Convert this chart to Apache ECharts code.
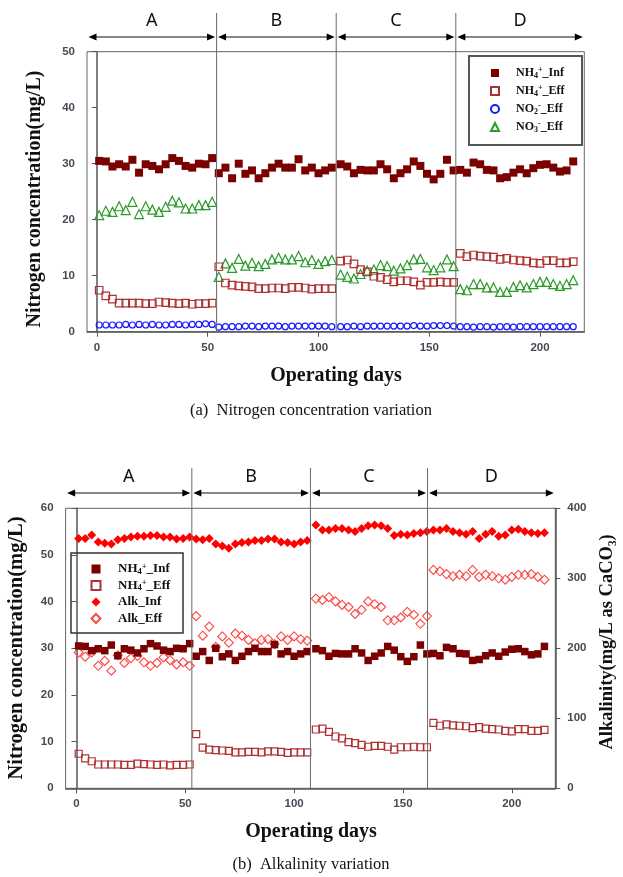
<!DOCTYPE html>
<html><head><meta charset="utf-8">
<script src="https://cdn.jsdelivr.net/npm/echarts@6/dist/echarts.min.js"></script>
<style>html,body{margin:0;padding:0;background:#fff}#main{width:623px;height:877px}</style>
</head><body><div id="main"></div>
<script>
// ---- data ----
const days = [1,4,7,10,13,16,19,22,25,28,31,34,37,40,43,46,49,52,
  55,58,61,64,67,70,73,76,79,82,85,88,91,94,97,100,103,106,
  110,113,116,119,122,125,128,131,134,137,140,143,146,149,152,155,158,161,
  164,167,170,173,176,179,182,185,188,191,194,197,200,203,206,209,212,215];
const nh4Inf = [30.5,30.4,29.5,29.9,29.5,30.7,28.4,29.9,29.6,29.0,29.9,31.0,30.5,29.6,29.3,30.0,29.9,31.0,
  28.3,29.3,27.4,30.0,28.2,28.8,27.4,28.3,29.3,30.0,29.3,29.3,30.8,28.8,29.3,28.3,28.8,29.3,
  29.9,29.5,28.3,28.9,28.8,28.8,29.9,29.0,27.4,28.3,29.0,30.4,29.6,28.2,27.2,28.2,30.7,28.8,
  28.9,28.4,30.2,29.9,28.9,28.8,27.4,27.6,28.4,29.0,28.3,29.2,29.8,29.9,29.3,28.6,28.8,30.4];
const nh4Eff = [7.4,6.4,5.8,5.1,5.1,5.1,5.1,5.0,5.0,5.3,5.2,5.1,5.0,5.1,4.9,5.0,5.0,5.1,
  11.6,8.7,8.3,8.2,8.1,8.0,7.7,7.7,7.8,7.8,7.7,7.9,7.9,7.8,7.6,7.7,7.7,7.7,
  12.6,12.8,12.1,11.1,10.7,9.9,9.7,9.3,8.9,9.1,9.1,8.9,8.3,8.8,8.8,8.9,8.8,8.8,
  14.0,13.4,13.7,13.5,13.4,13.3,12.9,13.1,12.8,12.7,12.6,12.3,12.2,12.7,12.7,12.3,12.3,12.5];
const no2Eff = [1.2,1.2,1.2,1.2,1.3,1.2,1.3,1.2,1.3,1.2,1.2,1.3,1.3,1.2,1.3,1.3,1.4,1.3,
  0.8,0.9,0.9,0.9,1.0,1.0,0.9,1.0,1.0,1.0,0.9,1.0,1.0,1.0,1.0,1.0,1.0,0.9,
  0.9,0.9,1.0,0.9,1.0,1.0,1.0,1.0,1.0,1.0,1.0,1.1,1.0,1.0,1.1,1.1,1.1,1.0,
  0.9,0.9,0.8,0.9,0.9,0.8,0.9,0.9,0.8,0.9,0.9,0.9,0.9,0.9,0.9,0.9,0.9,0.9];
const no3Eff = [20.8,21.6,21.4,22.4,21.7,23.2,21.0,22.4,21.8,21.4,22.3,23.4,23.1,22.0,22.0,22.6,22.6,23.2,
  9.8,12.2,11.4,13.0,11.8,12.3,11.7,12.1,12.9,13.2,12.9,12.9,13.5,12.4,12.8,12.1,12.6,12.8,
  10.2,9.8,9.5,10.3,10.9,11.1,11.9,11.7,10.9,11.3,11.9,12.9,13.0,11.5,11.0,11.5,12.9,11.7,
  7.6,7.4,8.5,8.5,7.9,7.9,7.1,7.1,8.0,8.3,7.9,8.5,8.9,8.9,8.5,8.2,8.5,9.2];
const alkInf = [357,357,362,352,350,349,355,357,359,360,360,361,361,359,359,356,357,359,
  356,355,357,349,346,343,349,351,352,354,354,356,356,352,351,349,352,354,
  376,369,369,371,371,369,367,371,375,376,375,371,361,363,362,364,365,367,
  369,369,371,367,365,363,367,357,363,367,360,362,369,370,367,365,364,365];
const alkEff = [194,188,194,175,182,168,190,179,186,189,180,175,179,187,183,177,180,175,
  246,218,231,202,217,208,221,218,212,207,212,213,206,217,212,217,213,211,
  271,269,273,267,262,259,249,255,267,263,259,240,240,244,252,248,235,246,
  312,310,306,303,305,303,312,302,305,303,300,298,302,305,305,306,302,298];
const xTicks = [0,50,100,150,200];
const phaseNames = ['A','B','C','D'];
const phaseBoundsTop = [54,108,162];
const phaseBoundsBottom = [53,107.5,161.3];

// ---- style ----
const SERIF = '"Liberation Serif","Times New Roman",serif';
const SANS = '"Liberation Sans",Arial,sans-serif';
const LBL = '#464a55';
const pts = arr => days.map((d,i)=>[d, arr[i]]);

const legendRich = (fs, sfs, gap) => ({
  g:{width:gap,fontSize:fs,lineHeight:14},
  m:{fontFamily:SERIF,fontWeight:'bold',fontSize:fs,color:'#111',lineHeight:14},
  sub:{fontFamily:SERIF,fontWeight:'bold',fontSize:sfs,color:'#111',lineHeight:sfs,verticalAlign:'bottom'},
  sup:{fontFamily:SERIF,fontWeight:'bold',fontSize:sfs,color:'#111',lineHeight:sfs,verticalAlign:'top'}
});
const legendLabels = {
  a_nh4inf:'{g|}{m|NH}{sub|4}{sup|+}{m|_Inf}', a_nh4eff:'{g|}{m|NH}{sub|4}{sup|+}{m|_Eff}',
  a_no2:'{g|}{m|NO}{sub|2}{sup|-}{m|_Eff}', a_no3:'{g|}{m|NO}{sub|3}{sup|-}{m|_Eff}',
  b_nh4inf:'{g|}{m|NH}{sub|4}{sup|+}{m|_Inf}', b_nh4eff:'{g|}{m|NH}{sub|4}{sup|+}{m|_Eff}',
  b_alkinf:'{g|}{m|Alk_Inf}', b_alkeff:'{g|}{m|Alk_Eff}'
};

function xAxisCfg(gi, min){
  return {type:'value', gridIndex:gi, min:min, max:220,
    axisLine:{show:true,lineStyle:{color:'#555',width:1.5}},
    axisTick:{show:true,inside:false,length:5,customValues:xTicks,lineStyle:{color:'#555'}},
    axisLabel:{customValues:xTicks,margin:10,color:LBL,fontFamily:SANS,fontWeight:'bold',fontSize:11.5},
    splitLine:{show:false}};
}
function yAxisCfg(gi, max, interval, pos){
  return {type:'value', gridIndex:gi, min:0, max:max, interval:interval, position:pos,
    axisLine:{show:true,lineStyle:{color:'#555',width:1.5}},
    axisTick:{show:true,inside:false,length:5,lineStyle:{color:'#555'}},
    axisLabel:{margin:12,color:LBL,fontFamily:SANS,fontWeight:'bold',fontSize:11.5},
    splitLine:{show:false}};
}

const chart = echarts.init(document.getElementById('main'), null, {renderer:'canvas'});
const option = {
  animation:false,
  backgroundColor:'#fff',
  grid:[
    {left:87, right:38.7, top:51.7, bottom:545.3, show:true, borderColor:'#666', borderWidth:1},
    {left:65.6, right:67.7, top:508.3, bottom:88.7, show:true, borderColor:'#666', borderWidth:1}
  ],
  xAxis:[xAxisCfg(0,-4.5), xAxisCfg(1,-5)],
  yAxis:[yAxisCfg(0,50,10,'left'), yAxisCfg(1,60,10,'left'), yAxisCfg(1,400,100,'right')],
  legend:[
    {data:['a_nh4inf','a_nh4eff','a_no2','a_no3'], orient:'vertical', left:490, top:66,
     itemWidth:8, itemHeight:8, itemGap:4, padding:0, selectedMode:false,
     formatter:n=>legendLabels[n], textStyle:{fontFamily:SERIF,fontWeight:'bold',fontSize:12,lineHeight:14,rich:legendRich(12,8,12)}},
    {data:['b_nh4inf','b_nh4eff','b_alkinf','b_alkeff'], orient:'vertical', left:90.5, top:562,
     itemWidth:9, itemHeight:9, itemGap:2.5, padding:0, selectedMode:false,
     formatter:n=>legendLabels[n], textStyle:{fontFamily:SERIF,fontWeight:'bold',fontSize:13,lineHeight:14,rich:legendRich(13,8.5,12.5)}}
  ],
  series:[
    {name:'a_no2', type:'scatter', xAxisIndex:0, yAxisIndex:0, data:pts(no2Eff), symbol:'circle', symbolSize:6,
     itemStyle:{color:'rgba(255,255,255,0)', borderColor:'#1a1aff', borderWidth:1.2, opacity:1}},
    {name:'a_no3', type:'scatter', xAxisIndex:0, yAxisIndex:0, data:pts(no3Eff), symbol:'triangle', symbolSize:9,
     itemStyle:{color:'rgba(255,255,255,0)', borderColor:'#2a9a2a', borderWidth:1.2, opacity:1}},
    {name:'a_nh4eff', type:'scatter', xAxisIndex:0, yAxisIndex:0, data:pts(nh4Eff), symbol:'rect', symbolSize:7.5,
     itemStyle:{color:'rgba(255,255,255,0)', borderColor:'#b03030', borderWidth:1.2, opacity:1}},
    {name:'a_nh4inf', type:'scatter', xAxisIndex:0, yAxisIndex:0, data:pts(nh4Inf), symbol:'rect', symbolSize:8,
     itemStyle:{color:'#7b0000', opacity:1}},
    {name:'b_alkeff', type:'scatter', xAxisIndex:1, yAxisIndex:2, data:pts(alkEff), symbol:'diamond', symbolSize:[9,9],
     itemStyle:{color:'rgba(255,255,255,0)', borderColor:'#ff4646', borderWidth:1.1, opacity:1}},
    {name:'b_nh4eff', type:'scatter', xAxisIndex:1, yAxisIndex:1, data:pts(nh4Eff), symbol:'rect', symbolSize:7,
     itemStyle:{color:'rgba(255,255,255,0)', borderColor:'#b03030', borderWidth:1.2, opacity:1}},
    {name:'b_nh4inf', type:'scatter', xAxisIndex:1, yAxisIndex:1, data:pts(nh4Inf), symbol:'rect', symbolSize:7.5,
     itemStyle:{color:'#7b0000', opacity:1}},
    {name:'b_alkinf', type:'scatter', xAxisIndex:1, yAxisIndex:2, data:pts(alkInf), symbol:'diamond', symbolSize:[9,9],
     itemStyle:{color:'#ff0000', opacity:1}}
  ]
};
chart.setOption(option);

// ---- annotations placed via the axes' own scales ----
function phaseGraphics(xi, yi, bounds, xMin, xMax, lineTop, arrowY, letterY){
  const els = [];
  const cv = v => chart.convertToPixel({xAxisIndex:xi, yAxisIndex:yi}, v);
  const xs = [xMin, ...bounds, xMax].map(d => cv([d,0])[0]);
  const yBottom = cv([0,0])[1];
  for (let i=1;i<xs.length-1;i++){
    els.push({type:'line', silent:true, z:10, shape:{x1:xs[i],y1:lineTop,x2:xs[i],y2:yBottom}, style:{stroke:'#6a6a6a',lineWidth:1}});
  }
  for (let i=0;i<xs.length-1;i++){
    const x0 = xs[i]+1.5, x1 = xs[i+1]-1.5;
    els.push({type:'line', silent:true, z:10, shape:{x1:x0+4,y1:arrowY,x2:x1-4,y2:arrowY}, style:{stroke:'#111',lineWidth:1.2}});
    els.push({type:'polygon', silent:true, z:10, shape:{points:[[x0,arrowY],[x0+8,arrowY-3.5],[x0+8,arrowY+3.5]]}, style:{fill:'#000'}});
    els.push({type:'polygon', silent:true, z:10, shape:{points:[[x1,arrowY],[x1-8,arrowY-3.5],[x1-8,arrowY+3.5]]}, style:{fill:'#000'}});
    els.push({type:'text', silent:true, z:10, x:(xs[i]+xs[i+1])/2, y:letterY,
      style:{text:phaseNames[i], font:'18px "Noto Sans","Open Sans",sans-serif', fill:'#111', textAlign:'center', textVerticalAlign:'middle'}});
  }
  return els;
}
function txt(x,y,text,font,rot){
  return {type:'text', silent:true, z:10, x:x, y:y, rotation:rot||0,
    style:{text:text, font:font, fill:'#111', textAlign:'center', textVerticalAlign:'middle'}};
}
const graphics = [
  ...phaseGraphics(0,0,phaseBoundsTop,-4.5,220,13,37,21),
  ...phaseGraphics(1,1,phaseBoundsBottom,-5,220,468,493,477),
  {type:'rect', silent:true, z:3, shape:{x:469,y:56,width:113,height:89}, style:{fill:'none',stroke:'#555',lineWidth:2}},
  {type:'rect', silent:true, z:3, shape:{x:71,y:553,width:112,height:80}, style:{fill:'none',stroke:'#333',lineWidth:1.5}},
  txt(35,199,'Nitrogen concentration(mg/L)','bold 20px '+SERIF,Math.PI/2),
  txt(17,648,'Nitrogen concentration(mg/L)','bold 20.5px '+SERIF,Math.PI/2),
  txt(607,642,'Alkalinity(mg/L as CaCO\u2083)','bold 18.5px '+SERIF,Math.PI/2),
  txt(336,376,'Operating days','bold 20px '+SERIF),
  txt(311,832,'Operating days','bold 20px '+SERIF),
  txt(311,411,'(a)  Nitrogen concentration variation','16.5px '+SERIF),
  txt(311,865,'(b)  Alkalinity variation','16.5px '+SERIF)
];
chart.setOption({graphic:graphics});
</script>
</body></html>
